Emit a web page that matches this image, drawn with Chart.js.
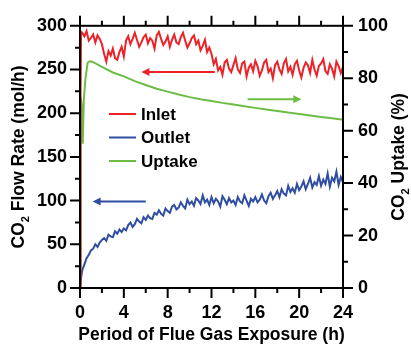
<!DOCTYPE html>
<html>
<head>
<meta charset="utf-8">
<script src="https://cdn.jsdelivr.net/npm/chart.js@4.4.0/dist/chart.umd.min.js"></script>
<style>
html, body { margin: 0; padding: 0; background: #fff; }
</style>
</head>
<body>
<canvas id="flow-chart" width="411" height="345"></canvas>
<script>
// logged every 0.2 h
const logHours = [
    0.2, 0.4, 0.6, 0.8, 1.0, 1.2, 1.4, 1.6, 1.8, 2.0,
    2.2, 2.4, 2.6, 2.8, 3.0, 3.2, 3.4, 3.6, 3.8, 4.0,
    4.2, 4.4, 4.6, 4.8, 5.0, 5.2, 5.4, 5.6, 5.8, 6.0,
    6.2, 6.4, 6.6, 6.8, 7.0, 7.2, 7.4, 7.6, 7.8, 8.0,
    8.2, 8.4, 8.6, 8.8, 9.0, 9.2, 9.4, 9.6, 9.8, 10.0,
    10.2, 10.4, 10.6, 10.8, 11.0, 11.2, 11.4, 11.6, 11.8, 12.0,
    12.2, 12.4, 12.6, 12.8, 13.0, 13.2, 13.4, 13.6, 13.8, 14.0,
    14.2, 14.4, 14.6, 14.8, 15.0, 15.2, 15.4, 15.6, 15.8, 16.0,
    16.2, 16.4, 16.6, 16.8, 17.0, 17.2, 17.4, 17.6, 17.8, 18.0,
    18.2, 18.4, 18.6, 18.8, 19.0, 19.2, 19.4, 19.6, 19.8, 20.0,
    20.2, 20.4, 20.6, 20.8, 21.0, 21.2, 21.4, 21.6, 21.8, 22.0,
    22.2, 22.4, 22.6, 22.8, 23.0, 23.2, 23.4, 23.6, 23.8, 24.0
];

const inletStartHours = [0, 0.05, 0.1];
const inletStartFlow = [0, 220, 293];
const inletFlow = [
    292, 288, 294, 283, 286, 290, 281, 289, 285, 279,
    268, 259, 271, 266, 274, 263, 261, 270, 276, 265,
    283, 288, 279, 285, 292, 284, 276, 281, 287, 290,
    280, 286, 283, 274, 289, 293, 285, 278, 282, 288,
    276, 284, 290, 281, 279, 287, 292, 283, 275, 280,
    286, 289, 279, 283, 272, 277, 284, 270, 275, 268,
    256, 262, 249, 253, 244, 258, 261, 251, 247, 255,
    263, 250, 246, 257, 259, 242, 252, 256, 248, 260,
    254, 243, 249, 258, 261, 247, 251, 240, 255, 259,
    250, 245, 257, 262, 248, 253, 244, 256, 260, 249,
    241, 252, 258, 255, 246, 261, 250, 243, 254, 257,
    262, 248, 245, 256, 251, 242, 259, 254, 246, 253
];

const outletStartHours = [0, 0.1];
const outletStartFlow = [0, 12];
const outletFlow = [
    20, 27, 34, 38, 43, 45, 50, 47, 52, 55,
    57, 54, 61, 59, 58, 65, 62, 67, 64, 68,
    66, 72, 75, 70, 73, 79, 76, 74, 81, 78,
    83, 80, 79, 86, 84, 89, 85, 83, 91, 88,
    86, 93, 95, 90, 92, 98, 94, 91, 101, 96,
    99, 94, 103, 100, 96, 106, 98, 101, 95, 104,
    97, 102, 99, 93, 105, 101, 96, 103, 98, 100,
    95, 104, 99, 97, 106, 100, 94, 102, 99, 104,
    98, 101, 107, 100, 97, 105, 109, 102, 106, 111,
    104, 113, 108, 106, 117, 110, 114, 109, 119, 112,
    116, 122, 113, 119, 126, 115, 121, 118, 128, 117,
    124, 119, 131, 116, 126, 122, 133, 118, 127, 121
];

const uptakeHours = [0, 0.05, 0.15, 0.25, 0.35, 0.5, 0.7, 0.9, 1.1, 1.5, 2, 3, 4, 5, 6, 7, 8, 9, 10,
    11, 12, 13, 14, 15, 16, 17, 18, 19, 20, 21, 22, 23, 24];
const uptakePct = [0, 73, 70, 55, 72, 80, 86, 86.5, 86.3, 85.5, 84.3, 82.2, 80.7, 78.9, 77.4, 76.0, 74.9, 73.8, 72.8,
    72.0, 71.3, 70.6, 70.0, 69.3, 68.7, 68.1, 67.5, 66.9, 66.4, 65.8, 65.2, 64.7, 64.2];

// arrows: from hour, to hour, level, axis
const arrowFrom = [12.3, 15.3, 6.0];
const arrowTo = [5.6, 20.2, 1.15];
const arrowLevel = [247, 72, 99];
const arrowAxis = ["y", "y2", "y"];

const RED = "#ec2227";
const BLUE = "#2f4ea2";
const GREEN = "#6cbd45";
const FONT = "'Liberation Sans', Arial, sans-serif";

function points(hours, values) {
    return hours.map(function(h, i) {
        return { x: h, y: values[i] };
    });
}

// axis frame with outward ticks, arrows, legend, titles
const decor = {
    id: "decor",
    afterDatasetsDraw(chart) {
        const ctx = chart.ctx;
        const a = chart.chartArea;
        const x = chart.scales.x;
        const y = chart.scales.y;
        const y2 = chart.scales.y2;
        const colors = [RED, GREEN, BLUE];

        ctx.save();
        // arrows
        for (let i = 0; i < arrowFrom.length; i++) {
            const sc = chart.scales[arrowAxis[i]];
            const py = sc.getPixelForValue(arrowLevel[i]);
            const x1 = x.getPixelForValue(arrowFrom[i]);
            const x2 = x.getPixelForValue(arrowTo[i]);
            const dir = x2 > x1 ? 1 : -1;
            ctx.strokeStyle = colors[i];
            ctx.fillStyle = colors[i];
            ctx.lineWidth = 2;
            ctx.beginPath();
            ctx.moveTo(x1, py);
            ctx.lineTo(x2 - dir * 6, py);
            ctx.stroke();
            ctx.beginPath();
            ctx.moveTo(x2, py);
            ctx.lineTo(x2 - dir * 8, py - 4);
            ctx.lineTo(x2 - dir * 8, py + 4);
            ctx.closePath();
            ctx.fill();
        }

        // legend
        ctx.font = "bold 17px " + FONT;
        ctx.textBaseline = "middle";
        ctx.textAlign = "left";
        chart.data.datasets.forEach(function(ds, i) {
            const ly = 114 + i * 23.5;
            ctx.strokeStyle = ds.borderColor;
            ctx.lineWidth = 2;
            ctx.beginPath();
            ctx.moveTo(109, ly);
            ctx.lineTo(136, ly);
            ctx.stroke();
            ctx.fillStyle = "#000";
            ctx.fillText(ds.label, 141, ly + 1);
        });

        // frame
        ctx.strokeStyle = "#000";
        ctx.lineWidth = 2;
        ctx.strokeRect(a.left, a.top, a.right - a.left, a.bottom - a.top);
        ctx.beginPath();
        for (let v = 0; v <= 300; v += 25) {
            const p = y.getPixelForValue(v);
            const l = v % 50 ? 5 : 10;
            ctx.moveTo(a.left - l, p);
            ctx.lineTo(a.left, p);
        }
        for (let v = 0; v <= 100; v += 10) {
            const p = y2.getPixelForValue(v);
            const l = v % 20 ? 5 : 10;
            ctx.moveTo(a.right, p);
            ctx.lineTo(a.right + l, p);
        }
        for (let v = 0; v <= 24; v += 2) {
            const p = x.getPixelForValue(v);
            const l = v % 4 ? 5 : 10;
            ctx.moveTo(p, a.bottom);
            ctx.lineTo(p, a.bottom + l);
            ctx.moveTo(p, a.top);
            ctx.lineTo(p, a.top - l);
        }
        ctx.stroke();

        // axis titles
        ctx.fillStyle = "#000";
        drawTitle(ctx, "CO", "2", " Flow Rate (mol/h)", 19, (a.top + a.bottom) / 2, -Math.PI / 2);
        drawTitle(ctx, "CO", "2", " Uptake (%)", 399, (a.top + a.bottom) / 2, -Math.PI / 2);
        drawTitle(ctx, "Period of Flue Gas Exposure (h)", "", "", (a.left + a.right) / 2, 335, 0);
        ctx.restore();
    }
};

function drawTitle(ctx, head, sub, tail, cx, cy, rot) {
    const big = "bold 17.5px " + FONT;
    const small = "bold 11px " + FONT;
    ctx.save();
    ctx.translate(cx, cy);
    ctx.rotate(rot);
    ctx.textBaseline = "middle";
    ctx.textAlign = "left";
    ctx.font = big;
    const w1 = ctx.measureText(head).width;
    const w3 = ctx.measureText(tail).width;
    ctx.font = small;
    const w2 = sub ? ctx.measureText(sub).width : 0;
    let px = -(w1 + w2 + w3) / 2;
    ctx.font = big;
    ctx.fillText(head, px, 0);
    px += w1;
    if (sub) {
        ctx.font = small;
        ctx.fillText(sub, px, 7);
        px += w2;
    }
    ctx.font = big;
    ctx.fillText(tail, px, 0);
    ctx.restore();
}

const tickFont = { family: FONT, size: 18, weight: "bold" };

new Chart(document.getElementById("flow-chart"), {
    type: "line",
    data: {
        datasets: [{
            label: "Inlet",
            data: points(inletStartHours.concat(logHours), inletStartFlow.concat(inletFlow)),
            borderColor: RED,
            yAxisID: "y",
        }, {
            label: "Outlet",
            data: points(outletStartHours.concat(logHours), outletStartFlow.concat(outletFlow)),
            borderColor: BLUE,
            yAxisID: "y",
        }, {
            label: "Uptake",
            data: points(uptakeHours, uptakePct),
            borderColor: GREEN,
            yAxisID: "y2",
        }, ],
    },
    options: {
        responsive: false,
        animation: false,
        layout: { padding: { top: 17, left: 0, right: 0, bottom: 0 } },
        elements: {
            point: { radius: 0 },
            line: { borderWidth: 2, tension: 0 },
        },
        plugins: {
            legend: { display: false },
            tooltip: { enabled: false },
        },
        scales: {
            x: {
                type: "linear",
                min: 0,
                max: 24,
                grid: { display: false, drawTicks: false },
                border: { display: false },
                ticks: { stepSize: 4, font: tickFont, color: "#000", padding: 14, maxRotation: 0 },
                afterFit: function(s) { s.height = 57; },
            },
            y: {
                position: "left",
                min: 0,
                max: 300,
                grid: { display: false, drawTicks: false },
                border: { display: false },
                ticks: { stepSize: 50, font: tickFont, color: "#000", padding: 13 },
                afterFit: function(s) { s.width = 80; },
            },
            y2: {
                position: "right",
                min: 0,
                max: 100,
                grid: { display: false, drawTicks: false },
                border: { display: false },
                ticks: { stepSize: 20, font: tickFont, color: "#000", padding: 15 },
                afterFit: function(s) { s.width = 68; },
            },
        },
    },
    plugins: [decor],
});
</script>
</body>
</html>
